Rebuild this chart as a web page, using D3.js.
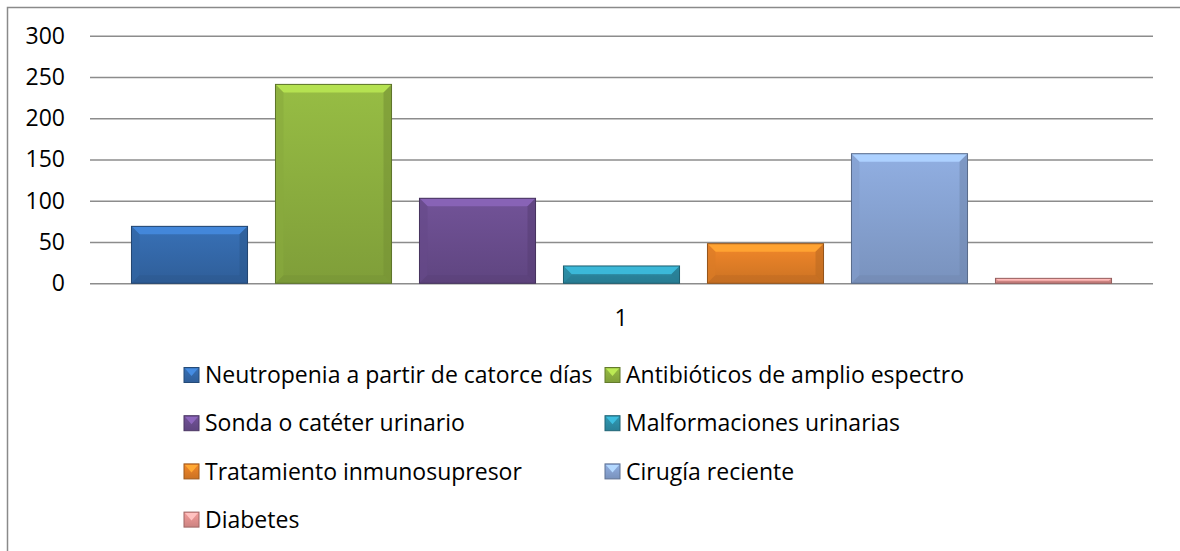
<!DOCTYPE html>
<html><head><meta charset="utf-8">
<script src="https://cdn.jsdelivr.net/npm/d3@7"></script>
<style>html,body{margin:0;padding:0;background:#fff;overflow:hidden}</style>
</head><body>
<svg id="chart" width="1180" height="551"></svg>
<script>
const categories = ["1"];
const seriesNames = [
  "Neutropenia a partir de catorce días",
  "Antibióticos de amplio espectro",
  "Sonda o catéter urinario",
  "Malformaciones urinarias",
  "Tratamiento inmunosupresor",
  "Cirugía reciente",
  "Diabetes"
];
const seriesValues = [69, 241, 103, 21, 48, 157, 6];
const seriesColors = ["#3469AA", "#8DB03F", "#6A4D8E", "#2E8FA8", "#E27F27", "#87A3D2", "#E39290"];
const yTicks = [0, 50, 100, 150, 200, 250, 300];

const FONT = "'Open Sans', sans-serif";
const FS = 23;
const svg = d3.select("#chart");
const defs = svg.append("defs");

// chart area border (extends beyond the viewport on right/bottom)
svg.append("rect").attr("x", 7.5).attr("y", 7.5).attr("width", 1300).attr("height", 700)
  .attr("fill", "#fff").attr("stroke", "#8a8a8a").attr("stroke-width", 1.5);

const plot = {left: 90, right: 1153, top: 35.7, bottom: 283.3};
const y = d3.scaleLinear().domain([0, 300]).range([plot.bottom, plot.top]);
const x0 = d3.scaleBand().domain(categories).range([plot.left, plot.right]).padding(0);
const x1 = d3.scaleBand().domain(seriesNames).range([0, x0.bandwidth()])
  .paddingInner(0.194).paddingOuter(0.288);

// gridlines + y labels via axis
const yAxis = d3.axisLeft(y).tickValues(yTicks).tickSize(-(plot.right - plot.left)).tickPadding(25);
const gy = svg.append("g").attr("transform", `translate(${plot.left},0)`).call(yAxis);
gy.select(".domain").remove();
gy.selectAll(".tick line").attr("stroke", "#8c8c8c").attr("stroke-width", 1.6);
gy.selectAll(".tick text").attr("font-family", FONT).attr("font-size", FS).attr("fill", "#000");

// gradients
seriesNames.forEach((name, i) => {
  const c = d3.color(seriesColors[i]);
  const lg = defs.append("linearGradient").attr("id", "g" + i).attr("x1", 0).attr("y1", 0).attr("x2", 0).attr("y2", 1);
  lg.append("stop").attr("offset", 0).attr("stop-color", c.brighter(0.2));
  lg.append("stop").attr("offset", 1).attr("stop-color", c.darker(0.3));
});

const g = svg.append("g");
categories.forEach(cat => {
  seriesNames.forEach((name, i) => {
    const v = seriesValues[i];
    const bx = x0(cat) + x1(name), bw = x1.bandwidth();
    const by = y(v), bh = y(0) - y(v);
    const c = d3.color(seriesColors[i]);
    const b = Math.min(8, bh / 2, bw / 2);
    const bg = g.append("g");
    bg.append("rect").attr("x", bx).attr("y", by).attr("width", bw).attr("height", bh)
      .attr("fill", `url(#g${i})`);
    bg.append("polygon").attr("points", [[bx, by], [bx + bw, by], [bx + bw - b, by + b], [bx + b, by + b]].join(" "))
      .attr("fill", c.brighter(0.7));
    bg.append("polygon").attr("points", [[bx, by], [bx + b, by + b], [bx + b, by + bh - b], [bx, by + bh]].join(" "))
      .attr("fill", c.darker(0.1)).attr("opacity", 0.6);
    bg.append("polygon").attr("points", [[bx + bw, by], [bx + bw - b, by + b], [bx + bw - b, by + bh - b], [bx + bw, by + bh]].join(" "))
      .attr("fill", c.darker(0.5)).attr("opacity", 0.6);
    bg.append("polygon").attr("points", [[bx, by + bh], [bx + b, by + bh - b], [bx + bw - b, by + bh - b], [bx + bw, by + bh]].join(" "))
      .attr("fill", c.darker(0.5)).attr("opacity", 0.5);
    bg.append("rect").attr("x", bx).attr("y", by).attr("width", bw).attr("height", bh)
      .attr("fill", "none").attr("stroke", c.darker(1.2)).attr("stroke-width", 1);
  });
});

// category label
svg.append("g").selectAll("text").data(categories).join("text")
  .attr("x", d => x0(d) + x0.bandwidth() / 2 - 0.5).attr("y", 326)
  .attr("text-anchor", "middle").attr("font-family", FONT).attr("font-size", FS).attr("fill", "#000")
  .text(d => d);

// legend: 2 columns
const legCols = [184, 605];
const legRow0 = 375, legRowStep = 48.2;
const lg = svg.append("g");
seriesNames.forEach((name, i) => {
  const col = i % 2, row = Math.floor(i / 2);
  const lx = legCols[col], ly = legRow0 + row * legRowStep;
  const c = d3.color(seriesColors[i]);
  const s = 15;
  const it = lg.append("g");
  it.append("rect").attr("x", lx).attr("y", ly - s / 2).attr("width", s).attr("height", s).attr("fill", `url(#g${i})`);
  it.append("polygon").attr("points", [[lx + 1, ly - s / 2 + 1], [lx + s - 1, ly - s / 2 + 1], [lx + s / 2, ly + 1]].join(" "))
    .attr("fill", c.brighter(0.8));
  it.append("rect").attr("x", lx).attr("y", ly - s / 2).attr("width", s).attr("height", s)
    .attr("fill", "none").attr("stroke", c.darker(1)).attr("stroke-width", 1);
  it.append("text").attr("x", lx + 21).attr("y", ly).attr("dy", "0.36em")
    .attr("font-family", FONT).attr("font-size", FS).attr("fill", "#000").text(name);
});
</script>
</body></html>
